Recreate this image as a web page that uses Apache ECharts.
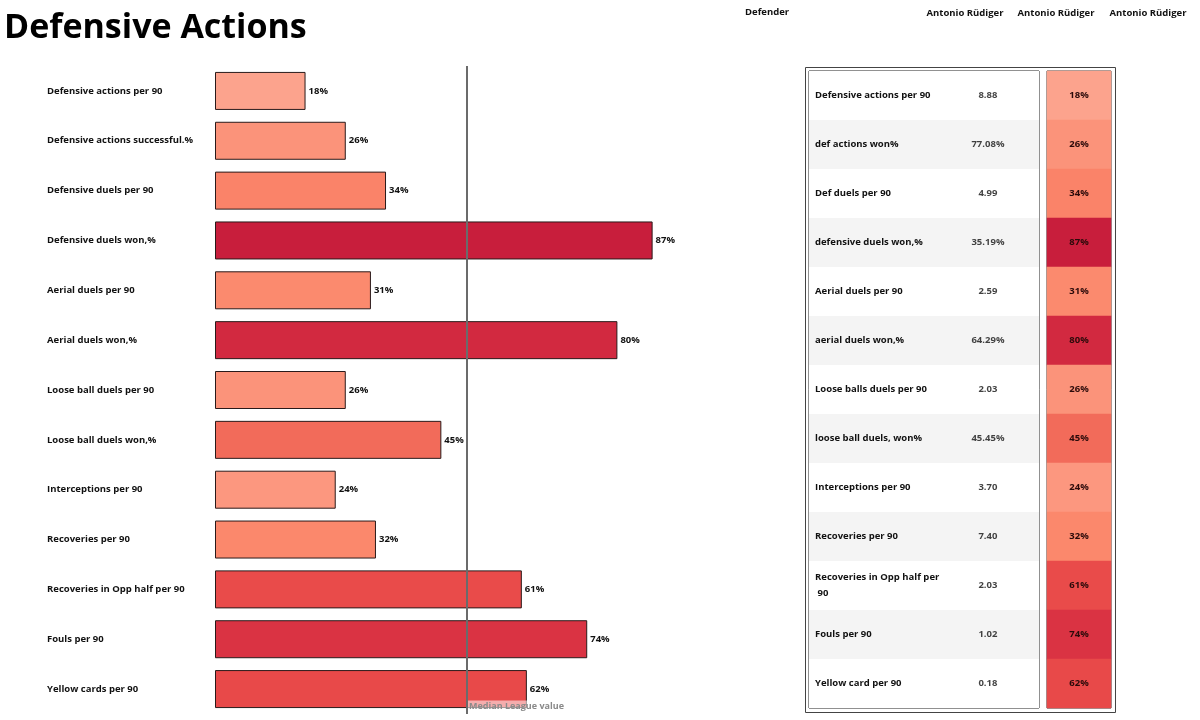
<!DOCTYPE html>
<html>
<head>
<meta charset="utf-8">
<script src="https://cdn.jsdelivr.net/npm/echarts@6/dist/echarts.min.js"></script>
<style>html,body{margin:0;padding:0;background:#fff;}#c{width:1200px;height:720px;}</style>
</head>
<body>
<div id="c"></div>
<script>
// ---- data ----
const chartTitle = 'Defensive Actions';
const headerLabels = ['Defender', 'Antonio Rüdiger', 'Antonio Rüdiger', 'Antonio Rüdiger'];
const barMetrics = ['Defensive actions per 90', 'Defensive actions successful.%', 'Defensive duels per 90', 'Defensive duels won,%', 'Aerial duels per 90', 'Aerial duels won,%', 'Loose ball duels per 90', 'Loose ball duels won,%', 'Interceptions per 90', 'Recoveries per 90', 'Recoveries in Opp half per 90', 'Fouls per 90', 'Yellow cards per 90'];
const percentiles = [18, 26, 34, 87, 31, 80, 26, 45, 24, 32, 61, 74, 62];
const tableMetrics = ['Defensive actions per 90', 'def actions won%', 'Def duels per 90', 'defensive duels won,%', 'Aerial duels per 90', 'aerial duels won,%', 'Loose balls duels per 90', 'loose ball duels, won%', 'Interceptions per 90', 'Recoveries per 90', 'Recoveries in Opp half per 90', 'Fouls per 90', 'Yellow card per 90'];
const tableValues = ['8.88', '77.08%', '4.99', '35.19%', '2.59', '64.29%', '2.03', '45.45%', '3.70', '7.40', '2.03', '1.02', '0.18'];
const medianPct = 50;
const medianLabel = 'Median League value';

// ---- styling ----
const FONT = '"Open Sans", "Noto Sans", sans-serif';
const reds = ['#fca38d', '#fb886c', '#f26a59', '#eb4e4b', '#db3443', '#c81e3c'];
const vMin = Math.min(...percentiles), vMax = Math.max(...percentiles);

const chart = echarts.init(document.getElementById('c'));
const option = {
  animation: false,
  backgroundColor: '#fff',
  textStyle: { fontFamily: FONT },
  title: {
    text: chartTitle, left: 4, top: 11, padding: 0,
    textStyle: { fontFamily: FONT, fontWeight: 700, fontSize: 34, color: '#000' }
  },
  graphic: [
    { type: 'text', left: 745, top: 7, style: { text: headerLabels[0], font: 'bold 9.5px ' + FONT, fill: '#111' } },
    { type: 'text', x: 965, y: 13, style: { text: headerLabels[1], font: 'bold 9.5px ' + FONT, fill: '#111', align: 'center', verticalAlign: 'middle' } },
    { type: 'text', x: 1056, y: 13, style: { text: headerLabels[2], font: 'bold 9.5px ' + FONT, fill: '#111', align: 'center', verticalAlign: 'middle' } },
    { type: 'text', x: 1148, y: 13, style: { text: headerLabels[3], font: 'bold 9.5px ' + FONT, fill: '#111', align: 'center', verticalAlign: 'middle' } },
    { type: 'rect', shape: { x: 805.5, y: 67.5, width: 310, height: 645 }, style: { fill: 'none', stroke: '#444', lineWidth: 1 }, z: 10 }
  ],
  visualMap: [
    { type: 'continuous', show: false, seriesIndex: 0, dimension: 0, min: vMin, max: vMax, inRange: { color: reds } },
    { type: 'continuous', show: false, seriesIndex: 2, dimension: 2, min: vMin, max: vMax, inRange: { color: reds } }
  ],
  grid: [
    { left: 215, top: 66, width: 503, height: 648, containLabel: false },
    { left: 809, top: 71, width: 230, height: 637, show: true, borderColor: '#222', borderWidth: 1, backgroundColor: 'transparent', z: 5 },
    { left: 1047, top: 71, width: 64, height: 637, show: true, borderColor: '#333', borderWidth: 1, backgroundColor: 'transparent' }
  ],
  xAxis: [
    { gridIndex: 0, type: 'value', min: 0, max: 100, show: false },
    { gridIndex: 1, type: 'value', min: 0, max: 1, show: false },
    { gridIndex: 2, type: 'category', data: [''], show: false }
  ],
  yAxis: [
    {
      gridIndex: 0, type: 'category', data: barMetrics, inverse: true,
      axisLine: { show: false }, axisTick: { show: false }, splitLine: { show: false },
      axisLabel: { align: 'left', margin: 168, fontFamily: FONT, fontWeight: 700, fontSize: 9.5, color: '#111' }
    },
    {
      gridIndex: 1, type: 'category', data: tableMetrics, inverse: true,
      axisLine: { show: false }, axisTick: { show: false }, splitLine: { show: false },
      splitArea: { show: true, areaStyle: { color: ['#ffffff', '#f4f4f4'] } },
      axisLabel: { inside: true, align: 'left', margin: 6, width: 125, overflow: 'break', lineHeight: 16, fontFamily: FONT, fontWeight: 700, fontSize: 9.5, color: '#111' },
      z: 6
    },
    { gridIndex: 2, type: 'category', data: tableMetrics, inverse: true, show: false }
  ],
  series: [
    {
      type: 'bar', xAxisIndex: 0, yAxisIndex: 0, barWidth: 38,
      data: percentiles.map((p, i) => [p, barMetrics[i]]),
      encode: { x: 0, y: 1 },
      itemStyle: { borderColor: '#2a1a1a', borderWidth: 1 },
      label: {
        show: true, position: 'right', distance: 3,
        formatter: p => p.value[0] + '%',
        fontFamily: FONT, fontWeight: 700, fontSize: 9.5, color: '#111'
      },
      markLine: {
        silent: true, symbol: 'none', animation: false,
        lineStyle: { color: '#6b6b6b', width: 2, type: 'solid' },
        label: { show: false },
        data: [{ xAxis: medianPct }]
      },
      markPoint: {
        silent: true, symbol: 'rect', symbolSize: 1,
        itemStyle: { color: 'transparent' },
        label: {
          show: true, position: 'right', distance: 1, offset: [0, 17],
          formatter: medianLabel,
          fontFamily: FONT, fontWeight: 700, fontSize: 9, color: '#8a8a8a',
          backgroundColor: 'rgba(255,255,255,0.55)', padding: [1, 1]
        },
        data: [{ coord: [medianPct, barMetrics[barMetrics.length - 1]] }]
      }
    },
    {
      type: 'scatter', xAxisIndex: 1, yAxisIndex: 1, symbolSize: 1,
      itemStyle: { color: 'transparent' },
      data: tableValues.map((v, i) => [0.778, i]),
      label: {
        show: true, position: 'inside',
        formatter: p => tableValues[p.dataIndex],
        fontFamily: FONT, fontWeight: 700, fontSize: 9.5, color: '#111'
      },
      z: 7
    },
    {
      type: 'heatmap', xAxisIndex: 2, yAxisIndex: 2,
      data: percentiles.map((p, i) => [0, i, p]),
      label: {
        show: true, formatter: p => p.value[2] + '%',
        fontFamily: FONT, fontWeight: 700, fontSize: 9.5, color: '#2a0a0a'
      }
    }
  ]
};
chart.setOption(option);
</script>
</body>
</html>
